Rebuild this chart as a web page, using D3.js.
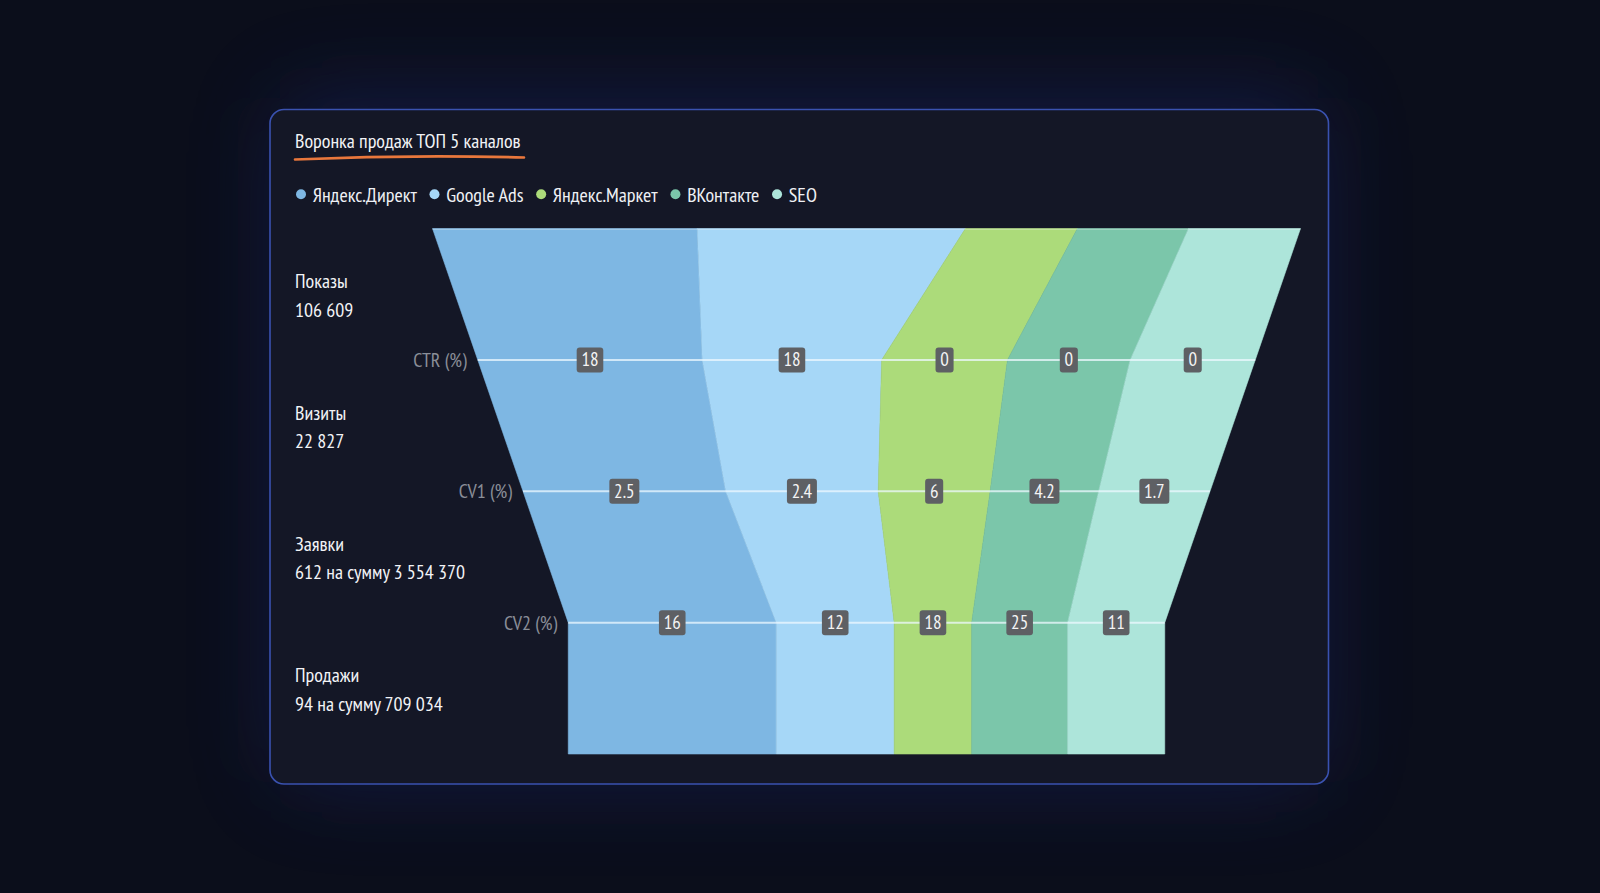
<!DOCTYPE html>
<html><head><meta charset="utf-8">
<script src="https://cdn.jsdelivr.net/npm/d3@7"></script>
<style>
html,body{margin:0;padding:0;background:#0b0e1b;overflow:hidden;}
svg{display:block;}
</style></head>
<body>
<svg id="chart" width="1600" height="893"></svg>
<script>
// ---------- data ----------
const title = "Воронка продаж ТОП 5 каналов";
const channels = ["Яндекс.Директ", "Google Ads", "Яндекс.Маркет", "ВКонтакте", "SEO"];
const channelColors = ["#7eb7e3", "#a6d7f7", "#acdb7a", "#7bc6aa", "#ade5da"];
const stageNames = ["Показы", "Визиты", "Заявки", "Продажи"];
const stageTotals = ["106 609", "22 827", "612 на сумму 3 554 370", "94 на сумму 709 034"];
// share (%) of each channel within each stage
const shareShows  = [30.5, 30.9, 12.9, 12.8, 12.9];
const shareVisits = [28.9, 23.1, 16.2, 15.8, 16.1];
const shareLeads  = [29.5, 22.2, 16.3, 15.8, 16.2];
const shareSales  = [34.9, 19.8, 13.0, 16.1, 16.3];
const rateNames = ["CTR (%)", "CV1 (%)", "CV2 (%)"];
const ctr = ["18", "18", "0", "0", "0"];
const cv1 = ["2.5", "2.4", "6", "4.2", "1.7"];
const cv2 = ["16", "12", "18", "25", "11"];

// ---------- font selection ----------
function hasFont(name) {
  const c = document.createElement("canvas").getContext("2d");
  const s = "Воронка продаж abc 123";
  c.font = "40px monospace"; const a = c.measureText(s).width;
  c.font = `40px '${name}', monospace`; const b = c.measureText(s).width;
  return Math.abs(a - b) > 0.5;
}
const candidates = ["PT Sans Narrow", "Liberation Sans Narrow", "Roboto Condensed", "Open Sans Condensed", "DejaVu Sans Condensed", "Roboto"];
let FONT = "Roboto";
for (const f of candidates) { if (hasFont(f)) { FONT = f; break; } }
const measureCtx = document.createElement("canvas").getContext("2d");
measureCtx.font = `20px '${FONT}'`;
const titleTarget = 229;
const SX = Math.min(1, titleTarget / measureCtx.measureText(title).width);

const svg = d3.select("#chart");
const defs = svg.append("defs");

// ---------- background ----------
const glow = defs.append("filter").attr("id", "glow").attr("x", "-30%").attr("y", "-30%").attr("width", "160%").attr("height", "160%");
glow.append("feGaussianBlur").attr("stdDeviation", 45);
const lineGlow = defs.append("filter").attr("id", "lglow").attr("x", "-5%").attr("y", "-300%").attr("width", "110%").attr("height", "700%");
lineGlow.append("feGaussianBlur").attr("stdDeviation", 2);

svg.append("rect").attr("width", 1600).attr("height", 893).attr("fill", "#0b0e1b");
const card = {x: 270, y: 109.5, w: 1058.5, h: 674.5, r: 14};
svg.append("rect").attr("x", card.x + 10).attr("y", card.y - 12).attr("width", card.w - 20).attr("height", card.h + 10)
  .attr("rx", 30).attr("fill", "#1a2a78").attr("opacity", 0.42).attr("filter", "url(#glow)");
svg.append("rect").attr("x", card.x).attr("y", card.y).attr("width", card.w).attr("height", card.h)
  .attr("rx", card.r).attr("fill", "#141726").attr("stroke", "#3a52b0").attr("stroke-width", 1.6);

function txt(g, x, yy, s, size, color, anchor) {
  return g.append("text")
    .attr("transform", `translate(${x},${yy}) scale(${SX},1)`)
    .attr("font-family", `'${FONT}', sans-serif`)
    .attr("font-size", size).attr("fill", color)
    .attr("text-anchor", anchor || "start").text(s);
}

// ---------- title ----------
txt(svg, 295, 148, title, 20, "#f2f3f6");
svg.append("path").attr("d", "M295,159.5 Q410,154.5 524,157.5")
  .attr("fill", "none").attr("stroke", "#e9773c").attr("stroke-width", 2.6).attr("stroke-linecap", "round");

// ---------- legend ----------
let lx = 301;
channels.forEach((c, i) => {
  svg.append("circle").attr("cx", lx).attr("cy", 194.3).attr("r", 5).attr("fill", channelColors[i]);
  const t = txt(svg, lx + 11.7, 201.6, c, 20, "#eef0f4");
  const w = t.node().getComputedTextLength() * SX;
  lx = lx + 11.7 + w + 17.7;
});

// ---------- funnel ----------
const funnelTop = 228.5, funnelBottom = 754, cx = 866.5;
const yScale = d3.scaleBand().domain(stageNames).range([funnelTop, funnelBottom]).paddingInner(0).paddingOuter(0);
const widthScale = d3.scaleLinear().domain([0, stageNames.length - 1]).range([868, 596.5]);
const xs = stageNames.map((s, i) => {
  const w = widthScale(i);
  return d3.scaleLinear().domain([0, 1]).range([cx - w / 2, cx + w / 2]);
});
const shares = [shareShows, shareVisits, shareLeads, shareSales];
const rows = stageNames.map((s, i) => {
  const r = {stage: s};
  channels.forEach((c, j) => r[c] = shares[i][j]);
  return r;
});
const series = d3.stack().keys(channels).offset(d3.stackOffsetExpand)(rows);
const levelY = i => (i < stageNames.length ? yScale(stageNames[i]) : funnelBottom);

const area = d3.area().curve(d3.curveLinear)
  .y(d => d.y).x0(d => d.x0).x1(d => d.x1);

const fg = svg.append("g");
series.forEach((s, ci) => {
  const pts = s.map((d, i) => ({y: levelY(i), x0: xs[i](d[0]), x1: xs[i](d[1])}));
  const last = pts[pts.length - 1];
  pts.push({y: funnelBottom, x0: last.x0, x1: last.x1});
  fg.append("path").attr("d", area(pts)).attr("fill", channelColors[ci])
    .attr("stroke", channelColors[ci]).attr("stroke-width", 0.6);
});
fg.append("line").attr("x1", xs[0](0)).attr("x2", xs[0](1)).attr("y1", funnelTop + 0.8).attr("y2", funnelTop + 0.8)
  .attr("stroke", "#ffffff").attr("stroke-opacity", 0.25).attr("stroke-width", 1.5);

// ---------- stage labels ----------
stageNames.forEach((s, i) => {
  const c = yScale(s) + yScale.bandwidth() / 2;
  txt(svg, 295, c - 6, s, 20, "#f2f3f6");
  txt(svg, 295, c + 22.5, stageTotals[i], 20, "#f2f3f6");
});

// ---------- rate lines ----------
const rates = [ctr, cv1, cv2];
rates.forEach((vals, ri) => {
  const li = ri + 1;
  const ly = levelY(li);
  const x0 = xs[li](0), x1 = xs[li](1);
  svg.append("line").attr("x1", x0).attr("x2", x1).attr("y1", ly).attr("y2", ly)
    .attr("stroke", "#ffffff").attr("stroke-opacity", 0.4).attr("stroke-width", 5).attr("filter", "url(#lglow)");
  svg.append("line").attr("x1", x0).attr("x2", x1).attr("y1", ly).attr("y2", ly)
    .attr("stroke", "#eef8ff").attr("stroke-opacity", 0.75).attr("stroke-width", 2);
  txt(svg, x0 - 11, ly + 7, rateNames[ri], 20, "#8a8e98", "end");
  const segs = series.map(s => (xs[li](s[li][0]) + xs[li](s[li][1])) / 2);
  vals.forEach((v, ci) => {
    const g = svg.append("g");
    const t = txt(g, segs[ci], ly + 6.5, v, 19, "#f4f4f4", "middle");
    const tw = t.node().getComputedTextLength() * SX;
    const bw = tw + 9.5;
    g.insert("rect", "text").attr("x", segs[ci] - bw / 2).attr("y", ly - 12.5).attr("width", bw).attr("height", 25)
      .attr("rx", 3).attr("fill", "#5e6064");
  });
});
</script>
</body></html>
